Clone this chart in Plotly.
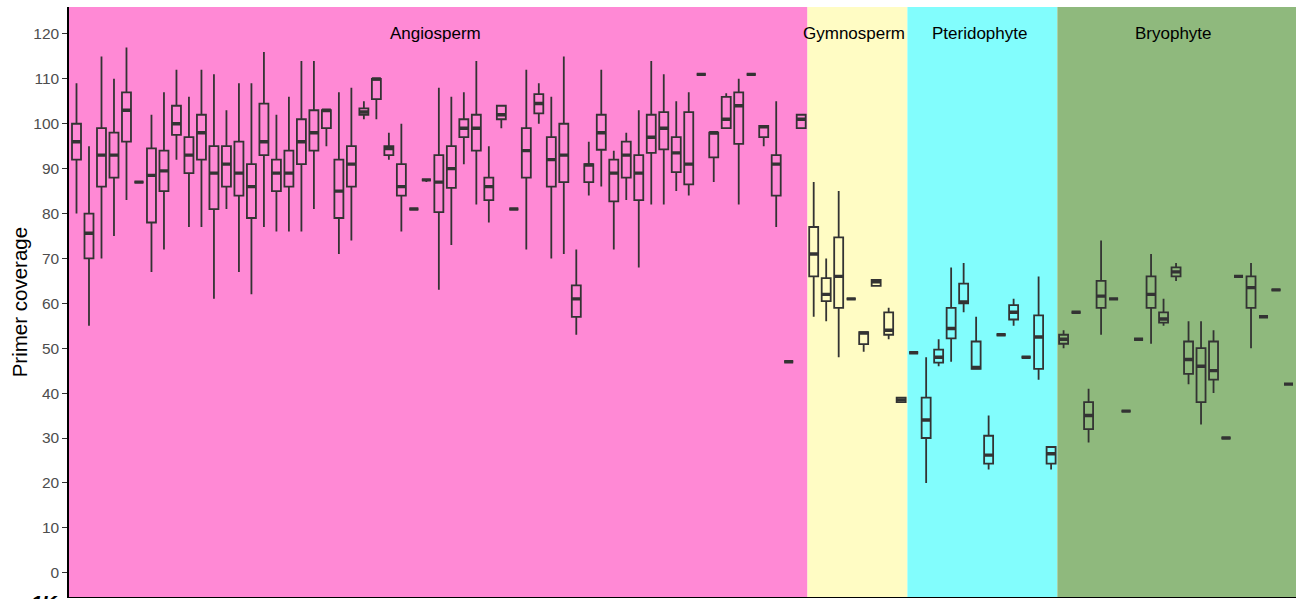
import numpy as np
import plotly.graph_objects as go

# ---------------- data ----------------
groups = ["Angiosperm", "Gymnosperm", "Pteridophyte", "Bryophyte"]
group_sizes = [59, 8, 12, 19]
group_colors = ["#FF89D5", "#FFFCC4", "#82FDFD", "#8FB97D"]

# five-number summaries per sample: lower whisker, Q1, median, Q3, upper whisker
lower = [80, 55, 70, 75, 83, 87, 67, 72, 92, 77, 77, 61, 81, 67, 62, 77, 76, 76, 76, 81,
         95, 71, 74, 101, 101, 92, 76, 81, 87, 63, 73, 91, 82, 78, 99, 81, 72, 100, 70, 71,
         53, 84, 86, 72, 83, 68, 82, 82, 85, 84, 111, 87, 99, 82, 111, 95, 77, 47, 99,
         57, 56, 48, 61, 49.2, 63.9, 52, 37.9,
         49, 20, 46, 47, 58, 45.4, 23, 53, 55, 48, 43, 23,
         50, 58, 29, 53, 61, 36, 52, 51, 55, 65, 42, 33, 40, 30, 66, 50, 57, 63, 42]
q1 = [92, 70, 86, 88, 96, 87, 78, 85, 97.5, 89, 92, 81, 86, 84, 79, 93, 85, 86, 91, 94,
      99, 79, 86, 102, 105.5, 93, 84, 81, 87.5, 80.3, 85.7, 97, 94, 83, 101, 81, 88, 102.3, 86, 87,
      57, 87, 94.2, 82.7, 88, 83, 93.5, 94.3, 89.2, 86.5, 111, 92.5, 99, 95.5, 111, 97, 84, 47, 99,
      66, 60.5, 59, 61, 50.9, 63.9, 53, 38,
      49, 30, 46.8, 52.2, 60, 45.4, 24.3, 53, 56.4, 48, 45.4, 24.3,
      51, 58, 32, 59, 61, 36, 52, 59, 55.7, 66, 44.3, 38, 43, 30, 66, 59, 57, 63, 42]
median = [96, 75.6, 93, 93, 103, 87, 88.5, 89.5, 100, 93, 98, 89, 91, 89, 86, 96, 89, 89, 96, 98,
          103, 85, 91, 102.6, 110, 94.5, 86, 81, 87.5, 87, 90, 99, 99, 86, 102, 81, 94, 104.5, 92, 93,
          61, 90.8, 98, 89, 93, 89, 97, 99, 93.5, 91, 111, 98, 101, 104, 111, 99.3, 91, 47, 101,
          71, 62, 66, 61, 53.4, 64.8, 54, 38.5,
          49, 34, 48, 54.4, 60.3, 45.7, 26.2, 53, 58, 48, 52.5, 26.5,
          52, 58, 35, 61.6, 61, 36, 52, 62, 56.5, 67, 47.5, 46, 45, 30, 66, 63.5, 57, 63, 42]
q3 = [100, 80, 99, 98, 107, 87, 94.5, 94, 104, 97, 102, 95, 95, 96, 91, 104.5, 92, 94, 101, 103,
      103, 92, 95, 103.4, 110, 95, 91, 81, 87.5, 93, 95, 101, 102, 88, 104, 81, 99, 106.6, 97, 100,
      64, 91, 102, 92, 96, 93, 102, 102.6, 97, 102.6, 111, 98, 106, 107, 111, 99.5, 93, 47, 102,
      77, 65.6, 74.7, 61, 53.6, 65.2, 58, 39,
      49, 39, 49.7, 59, 64.4, 51.5, 30.5, 53, 59.6, 48, 57.3, 28,
      53, 58, 38, 65, 61, 36, 52, 66, 58, 68, 51.5, 50, 51.5, 30, 66, 66, 57, 63, 42]
upper = [109, 95, 115, 110, 117, 87, 102, 107, 112, 106, 112, 111, 103, 109, 109, 116, 102, 106, 114, 114,
         103, 107, 108, 105, 110, 98, 100, 81, 87.5, 108, 106, 107, 114, 95, 104, 81, 112, 109, 106, 115,
         72, 96, 112, 94, 98, 103, 114, 111, 105, 107, 111, 98.3, 106.8, 110, 111, 99.7, 105, 47, 102,
         87, 70, 85, 61, 53.8, 65.2, 59, 39,
         49, 48, 52, 68, 69, 57, 35, 53, 61, 48, 66, 28,
         54, 58, 41, 74, 61, 36, 52, 71, 61, 69, 56, 56, 54, 30, 66, 69, 57, 63, 42]

y_ticks = list(range(0, 121, 10))
y_title = "Primer coverage"
panel_tag = "1K"

# ---------------- figure ----------------
n = len(median)
pos = np.arange(n)
x_min, x_max = -0.6, n - 1 + 0.6
y_min, y_max = -5.41, 126.0

line_col = "#333333"
fig = go.Figure()

fig.add_trace(go.Box(
    x=pos, q1=q1, median=median, q3=q3, lowerfence=lower, upperfence=upper,
    width=0.72, whiskerwidth=0, boxpoints=False,
    line=dict(color=line_col, width=1.8), fillcolor="rgba(0,0,0,0)",
    hoverinfo="skip", showlegend=False,
))
# thicker median bars (ggplot "fatten")
fig.add_trace(go.Box(
    x=pos, q1=median, median=median, q3=median, lowerfence=median, upperfence=median,
    width=0.72, whiskerwidth=0, boxpoints=False,
    line=dict(color=line_col, width=3.4), fillcolor="rgba(0,0,0,0)",
    hoverinfo="skip", showlegend=False,
))

shapes = []
annotations = []
start = 0
for gi, (name, size, col) in enumerate(zip(groups, group_sizes, group_colors)):
    x0 = start - 0.5 if gi > 0 else x_min
    x1 = start + size - 0.5 if gi < len(groups) - 1 else x_max
    shapes.append(dict(type="rect", xref="x", yref="paper", x0=x0, x1=x1, y0=0, y1=1,
                       fillcolor=col, line=dict(width=0), layer="below"))
    annotations.append(dict(x=start + (size - 1) / 2, y=120, xref="x", yref="y",
                            text=name, showarrow=False, xshift=-3,
                            font=dict(size=17, color="black", family="Liberation Sans, Arial")))
    start += size

annotations.append(dict(x=-0.0405, y=0.5, xref="paper", yref="paper", text=y_title,
                        textangle=-90, showarrow=False, xanchor="center", yanchor="middle",
                        font=dict(size=20.5, color="black", family="Liberation Sans, Arial")))
annotations.append(dict(x=-0.0196, y=0.012, xref="paper", yref="paper",
                        text="<b><i>" + panel_tag + "</i></b>", showarrow=False,
                        xanchor="center", yanchor="top",
                        font=dict(size=20, color="black", family="Liberation Sans, Arial")))

fig.update_layout(
    width=1300, height=599,
    margin=dict(l=69, r=4, t=7, b=2),
    paper_bgcolor="white", plot_bgcolor="white",
    boxmode="overlay",
    shapes=shapes, annotations=annotations,
    showlegend=False,
    font=dict(family="Liberation Sans, Arial"),
)
fig.update_xaxes(range=[x_min, x_max], showticklabels=False, ticks="", showgrid=False,
                 zeroline=False, showline=True, linecolor="black", linewidth=1)
fig.update_yaxes(range=[y_min, y_max], tickvals=y_ticks, ticks="outside", ticklen=5,
                 tickcolor="#333333", tickwidth=1.2,
                 tickfont=dict(size=15.5, color="#4d4d4d", family="Liberation Sans, Arial"),
                 showgrid=False, zeroline=False, showline=True, linecolor="black", linewidth=1.5)

fig.write_html("out.html")
